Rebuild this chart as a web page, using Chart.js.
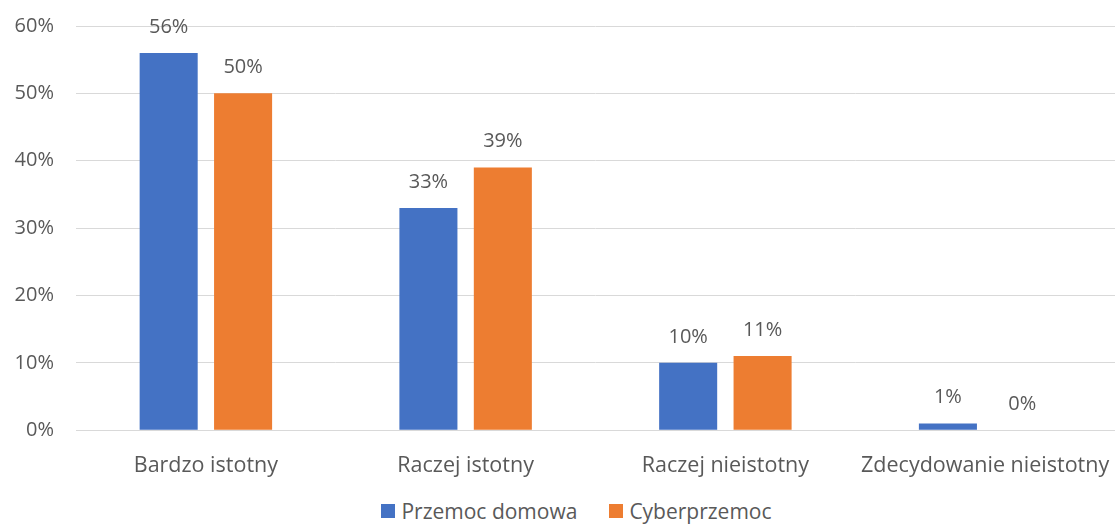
<!DOCTYPE html>
<html>
<head>
<meta charset="utf-8">
<script src="https://cdn.jsdelivr.net/npm/chart.js@4"></script>
<style>
  html, body { margin: 0; padding: 0; background: #fff; }
  #wrap { width: 1115px; height: 490px; }
  #chartLegend {
    width: 1115px; height: 39px; box-sizing: border-box;
    display: flex; justify-content: center; align-items: center;
    padding: 2px 0 0 38px;
    font-family: "Open Sans", "Noto Sans", sans-serif; font-size: 21px; color: #595959;
  }
  #chartLegend .item { display: flex; align-items: center; margin: 0 16px; }
  #chartLegend .box { width: 14px; height: 14px; margin-right: 6px; }
</style>
</head>
<body>
<div id="wrap"><canvas id="myChart"></canvas></div>
<div id="chartLegend"></div>
<script>
// kategorie i serie
const categories = ['Bardzo istotny', 'Raczej istotny', 'Raczej nieistotny', 'Zdecydowanie nieistotny'];
const seriesNames = ['Przemoc domowa', 'Cyberprzemoc'];
const przemocDomowa = [56, 33, 10, 1];
const cyberprzemoc = [50, 39, 11, 0];
const seriesColors = ['#4472C4', '#ED7D31'];
const yTicks = [0, 10, 20, 30, 40, 50, 60];

const textColor = '#595959';
const fontFamily = '"Open Sans", "Noto Sans", sans-serif';

// etykiety nad słupkami
const valueLabels = {
  id: 'valueLabels',
  afterDatasetsDraw(chart) {
    const ctx = chart.ctx;
    ctx.save();
    ctx.font = '20px ' + fontFamily;
    ctx.fillStyle = textColor;
    ctx.textAlign = 'center';
    ctx.textBaseline = 'middle';
    chart.data.datasets.forEach((ds, i) => {
      chart.getDatasetMeta(i).data.forEach((bar, j) => {
        ctx.fillText(ds.data[j] + '%', bar.x, bar.y - 26);
      });
    });
    ctx.restore();
  }
};

const myChart = new Chart(document.getElementById('myChart'), {
  type: 'bar',
  data: {
    labels: categories,
    datasets: [
      { label: seriesNames[0], data: przemocDomowa, backgroundColor: seriesColors[0] },
      { label: seriesNames[1], data: cyberprzemoc, backgroundColor: seriesColors[1] }
    ]
  },
  options: {
    responsive: true,
    maintainAspectRatio: false,
    animation: false,
    categoryPercentage: 0.573,
    barPercentage: 0.78,
    layout: { padding: { top: 26, right: 0, bottom: -12, left: 0 } },
    plugins: {
      legend: { display: false },
      tooltip: { enabled: false }
    },
    scales: {
      x: {
        afterFit(scale) { scale.paddingLeft = 0; scale.paddingRight = 0; },
        grid: { display: false, drawTicks: false },
        border: { color: '#d9d9d9', width: 1 },
        ticks: { color: textColor, padding: 23, font: { family: fontFamily, size: 21.5 } }
      },
      y: {
        min: 0,
        max: 60,
        afterFit(scale) { scale.width = 76; scale.paddingTop = 0; scale.paddingBottom = 0; },
        afterBuildTicks(scale) { scale.ticks = yTicks.map(v => ({ value: v })); },
        grid: { color: '#d9d9d9', drawTicks: false },
        border: { display: false },
        ticks: {
          color: textColor,
          padding: 22,
          font: { family: fontFamily, size: 20 },
          callback: v => v + '%'
        }
      }
    }
  },
  plugins: [valueLabels]
});

// egen legend under diagrammet
function createLegend(chart) {
  const legendContainer = document.getElementById('chartLegend');
  legendContainer.innerHTML = '';
  chart.data.datasets.forEach(ds => {
    const item = document.createElement('div');
    item.className = 'item';
    const colorBox = document.createElement('span');
    colorBox.className = 'box';
    colorBox.style.backgroundColor = ds.backgroundColor;
    item.appendChild(colorBox);
    item.appendChild(document.createTextNode(ds.label));
    legendContainer.appendChild(item);
  });
}
createLegend(myChart);
</script>
</body>
</html>
